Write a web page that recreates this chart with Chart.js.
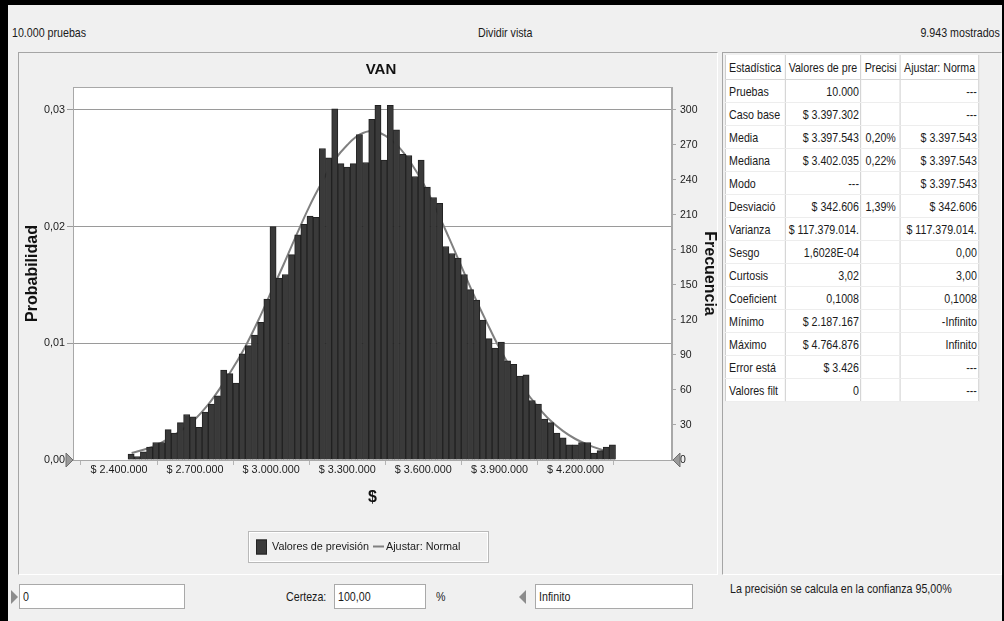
<!DOCTYPE html>
<html><head><meta charset="utf-8">
<script src="https://cdn.jsdelivr.net/npm/chart.js@4.4.1/dist/chart.umd.min.js"></script>
<style>
html,body{margin:0;padding:0;}
body{width:1004px;height:621px;background:#f0f0f0;position:relative;overflow:hidden;
 font-family:"Liberation Sans",Arial,sans-serif;font-size:13px;color:#1a1a1a;}
.frame{background:#000;position:absolute;}
.box{position:absolute;background:#fff;border:1px solid #a9a9a9;box-sizing:border-box;height:25px;line-height:23px;padding-left:3px;white-space:nowrap;}
.lbl{position:absolute;line-height:16px;white-space:nowrap;}
.n{display:inline-block;transform:scaleX(0.82);transform-origin:left center;}
.nr{display:inline-block;transform:scaleX(0.82);transform-origin:right center;}
#chartPanel{position:absolute;left:18px;top:52px;width:700px;height:523px;box-sizing:border-box;border:1px solid #a5a5a5;border-right-color:#fff;border-bottom-color:#fff;}
#chartWrap{position:absolute;left:18px;top:53px;width:726px;height:522px;z-index:1;}
#tablePanel{position:absolute;left:722px;top:52px;width:280px;height:523px;box-sizing:border-box;border:1px solid #a5a5a5;border-right-color:#fff;border-bottom-color:#fff;background:#f0f0f0;z-index:2;overflow:hidden;}
#stats{position:absolute;left:2px;top:2px;border-collapse:collapse;table-layout:fixed;background:#fff;transform:scaleX(0.82);transform-origin:left top;}
#stats th,#stats td{overflow:hidden;white-space:nowrap;padding:0 4px;font-weight:normal;border-left:1px solid #c4c4c4;border-right:1px solid #c4c4c4;}
#stats th{height:24px;text-align:left;border-bottom:1px solid #d8d8d8;background:#fff;}
#stats td{height:22px;border-bottom:1px solid #ededed;}
#stats td.num{text-align:right;padding-right:2px;}
#stats td.mid{text-align:center;}
.triR{position:absolute;width:0;height:0;border-top:7px solid transparent;border-bottom:7px solid transparent;border-left:7px solid #8c8c8c;}
.triL{position:absolute;width:0;height:0;border-top:7px solid transparent;border-bottom:7px solid transparent;border-right:7px solid #8c8c8c;}
</style></head>
<body>
<div class="frame" style="left:0;top:0;width:1004px;height:5px"></div>
<div class="frame" style="left:0;top:0;width:8px;height:621px"></div>
<div class="frame" style="left:1002px;top:0;width:2px;height:621px"></div>

<div class="lbl" style="left:12px;top:25px"><span class="n">10.000 pruebas</span></div>
<div class="lbl" style="left:478px;top:25px"><span class="n">Dividir vista</span></div>
<div class="lbl" style="right:4px;top:25px"><span class="nr">9.943 mostrados</span></div>

<div id="chartPanel"></div>
<div id="chartWrap"><canvas id="c" width="726" height="522"></canvas></div>

<div id="tablePanel"><table id="stats"></table></div>

<div class="triR" style="left:11px;top:590px"></div>
<div class="box" style="left:19px;top:584px;width:166px"><span class="n">0</span></div>
<div class="lbl" style="left:286px;top:589px"><span class="n">Certeza:</span></div>
<div class="box" style="left:334px;top:584px;width:92px"><span class="n">100,00</span></div>
<div class="lbl" style="left:436px;top:589px"><span class="n">%</span></div>
<div class="triL" style="left:519px;top:590px"></div>
<div class="box" style="left:535px;top:584px;width:158px"><span class="n">Infinito</span></div>
<div class="lbl" style="left:730px;top:581px"><span class="n">La precisión se calcula en la confianza 95,00%</span></div>

<script>
// ---------- data ----------
const binStart = 2435800;      // left edge of first histogram bin ($)
const binWidth = 24330;        // width of each bin ($)
const frequencies = [5,3,7,11,15,15,26,23,32,39,37,28,41,48,55,77,74,66,91,98,107,118,138,
  200,156,159,176,193,202,209,208,267,259,301,254,251,254,279,255,292,304,
  257,304,283,262,261,243,257,234,225,220,183,177,173,159,146,137,120,104,
  96,101,85,82,72,73,51,48,35,32,23,19,13,13,15,15,6,8,11,13];

const fitX = [2450000,2500000,2550000,2600000,2650000,2700000,2750000,2800000,2850000,2900000,
  2950000,3000000,3050000,3100000,3150000,3200000,3250000,3300000,3350000,3400000,
  3450000,3500000,3550000,3600000,3650000,3700000,3750000,3800000,3850000,3900000,
  3950000,4000000,4050000,4100000,4150000,4200000,4250000,4300000,4330000];
const fitFreq = [6,9,13,19,26,35,47,62,79,98,120,144,168,193,217,238,257,270,279,282,
  278,269,255,237,215,191,166,141,118,96,77,60,46,34,25,18,13,9,7];

const xTickValues = [2400000,2700000,3000000,3300000,3600000,3900000,4200000];
const xTickLabels = ['$ 2.400.000','$ 2.700.000','$ 3.000.000','$ 3.300.000','$ 3.600.000','$ 3.900.000','$ 4.200.000'];
const probTickValues = [0,0.01,0.02,0.03];
const probTickLabels = ['0,00','0,01','0,02','0,03'];
const freqTickValues = [0,30,60,90,120,150,180,210,240,270,300];

const tableHeaders = ['Estadística','Valores de pre','Precisi','Ajustar: Norma'];
const statNames = ['Pruebas','Caso base','Media','Mediana','Modo','Desviació','Varianza','Sesgo','Curtosis','Coeficient','Mínimo','Máximo','Error está','Valores filt'];
const forecastVals = ['10.000','$ 3.397.302','$ 3.397.543','$ 3.402.035','---','$ 342.606','$ 117.379.014.','1,6028E-04','3,02','0,1008','$ 2.187.167','$ 4.764.876','$ 3.426','0'];
const precisionVals = ['','','0,20%','0,22%','','1,39%','','','','','','','',''];
const fitVals = ['---','---','$ 3.397.543','$ 3.397.543','$ 3.397.543','$ 342.606','$ 117.379.014.','0,00','3,00','0,1008','-Infinito','Infinito','---','---'];

// ---------- table ----------
(function(){
  const t = document.getElementById('stats');
  const widths = [62,79,42,82].map(w => w/0.82);
  let html = '<colgroup>' + widths.map(w=>'<col style="width:'+w.toFixed(1)+'px">').join('') + '</colgroup>';
  html += '<tr>' + tableHeaders.map(h=>'<th>'+h+'</th>').join('') + '</tr>';
  statNames.forEach((n,i)=>{
    html += '<tr><td>'+n+'</td><td class="num">'+forecastVals[i]+'</td><td class="mid">'+precisionVals[i]+'</td><td class="num">'+fitVals[i]+'</td></tr>';
  });
  t.innerHTML = html;
})();

// ---------- chart ----------
const SANS = "'Liberation Sans',Arial,sans-serif";
Chart.defaults.font.family = SANS;
Chart.defaults.color = '#1a1a1a';

const barPoints = frequencies.map((f,i)=>({x: binStart + binWidth*(i+0.5), y: f}));
const fitPoints = fitX.map((x,i)=>({x: x, y: fitFreq[i]}));

const plotFrame = {
  id:'plotFrame',
  beforeDraw(chart){
    const {ctx, chartArea:a} = chart;
    ctx.save(); ctx.fillStyle = '#ffffff'; ctx.fillRect(a.left, a.top, a.width, a.height); ctx.restore();
  },
  afterDraw(chart){
    const {ctx, chartArea:a} = chart;
    ctx.save();
    ctx.strokeStyle = '#a8a8a8'; ctx.lineWidth = 1;
    ctx.strokeRect(Math.round(a.left)+0.5, Math.round(a.top)+0.5, Math.round(a.width)-1, Math.round(a.height));
    const yb = a.bottom;
    ctx.fillStyle = '#9a9a9a'; ctx.strokeStyle = '#6e6e6e';
    ctx.beginPath(); ctx.moveTo(a.left-7, yb-7); ctx.lineTo(a.left, yb); ctx.lineTo(a.left-7, yb+7); ctx.closePath(); ctx.fill(); ctx.stroke();
    ctx.beginPath(); ctx.moveTo(a.right+8, yb-7); ctx.lineTo(a.right+1, yb); ctx.lineTo(a.right+8, yb+7); ctx.closePath(); ctx.fill(); ctx.stroke();
    ctx.restore();
  }
};

const boxLegend = {
  id:'boxLegend',
  afterDraw(chart){
    const ctx = chart.ctx;
    const L = 230, T = 478, W = 240, H = 31;
    ctx.save();
    ctx.strokeStyle = '#b9b9b9'; ctx.lineWidth = 1;
    ctx.strokeRect(L+0.5, T+0.5, W, H);
    ctx.strokeStyle = '#ffffff';
    ctx.strokeRect(L+1.5, T+1.5, W-2, H-2);
    const ds = chart.data.datasets;
    const cy = T + H/2;
    ctx.font = "10.8px " + SANS;
    ctx.textBaseline = 'middle';
    let x = L + 8;
    ctx.fillStyle = ds[0].backgroundColor; ctx.fillRect(x, cy-7, 11, 15);
    ctx.strokeStyle = ds[0].borderColor; ctx.strokeRect(x+0.5, cy-6.5, 10, 14);
    x += 16;
    ctx.fillStyle = '#1a1a1a'; ctx.fillText(ds[0].label, x, cy+1);
    x += ctx.measureText(ds[0].label).width + 4;
    ctx.strokeStyle = ds[1].borderColor; ctx.lineWidth = 2;
    ctx.beginPath(); ctx.moveTo(x, cy); ctx.lineTo(x+11, cy); ctx.stroke();
    x += 13;
    ctx.fillText(ds[1].label, x, cy+1);
    ctx.restore();
  }
};

new Chart(document.getElementById('c'), {
  type:'bar',
  data:{
    datasets:[
      { type:'bar', label:'Valores de previsión', data: barPoints, xAxisID:'x', yAxisID:'yFreq',
        backgroundColor:'#3a3a3a', borderColor:'#222222', borderWidth:1,
        barPercentage:1, categoryPercentage:1, order:1 },
      { type:'line', label:'Ajustar: Normal', data: fitPoints, xAxisID:'x', yAxisID:'yFreq',
        borderColor:'#808080', borderWidth:2, pointRadius:0, tension:0.4, fill:false, order:2 }
    ]
  },
  options:{
    responsive:false, animation:false, devicePixelRatio:1,
    layout:{ padding:{ left:0, right:0, top:0, bottom:65 } },
    plugins:{
      legend:{ display:false },
      tooltip:{ enabled:false },
      title:{ display:true, text:'VAN', color:'#111', font:{ family:SANS, size:15, weight:'bold' }, padding:{ top:8, bottom:8 } }
    },
    scales:{
      x:{ type:'linear', position:'bottom', min:2387500, max:4411800,
        afterBuildTicks: s => { s.ticks = xTickValues.map(v=>({value:v})); },
        afterFit: s => { s.height = 50; },
        ticks:{ autoSkip:false, maxRotation:0, padding:-1, font:{ family:SANS, size:10.8 }, color:'#1a1a1a',
          callback:(v,i)=> xTickLabels[i] },
        grid:{ drawOnChartArea:false, drawTicks:true, tickLength:5, color:'#b4b4b4' },
        border:{ color:'#a8a8a8' },
        title:{ display:true, text:'$', color:'#111', font:{ family:SANS, size:16, weight:'bold' }, padding:{ top:0, bottom:2.4 } }
      },
      yProb:{ position:'left', min:0, max:0.031971,
        afterBuildTicks: s => { s.ticks = probTickValues.map(v=>({value:v})); },
        afterFit: s => { s.width = 55; },
        ticks:{ padding:2, font:{ family:SANS, size:10.8 }, color:'#1a1a1a', callback:(v,i)=> probTickLabels[i] },
        grid:{ color:'#9a9a9a', tickLength:6, drawTicks:true },
        border:{ color:'#a8a8a8' },
        title:{ display:true, text:'Probabilidad', color:'#111', font:{ family:SANS, size:16, weight:'bold' }, padding:{ top:4.9, bottom:0 } }
      },
      yFreq:{ position:'right', min:0, max:319.71,
        afterBuildTicks: s => { s.ticks = freqTickValues.map(v=>({value:v})); },
        afterFit: s => { s.width = 72; },
        ticks:{ padding:4, font:{ family:SANS, size:10.5 }, color:'#1a1a1a' },
        grid:{ drawOnChartArea:false, drawTicks:true, tickLength:4, color:'#a8a8a8' },
        border:{ color:'#a8a8a8' },
        title:{ display:true, text:'Frecuencia', color:'#111', font:{ family:SANS, size:16, weight:'bold' }, padding:{ top:25.4, bottom:0 } }
      }
    }
  },
  plugins:[plotFrame, boxLegend]
});
</script>
</body></html>
